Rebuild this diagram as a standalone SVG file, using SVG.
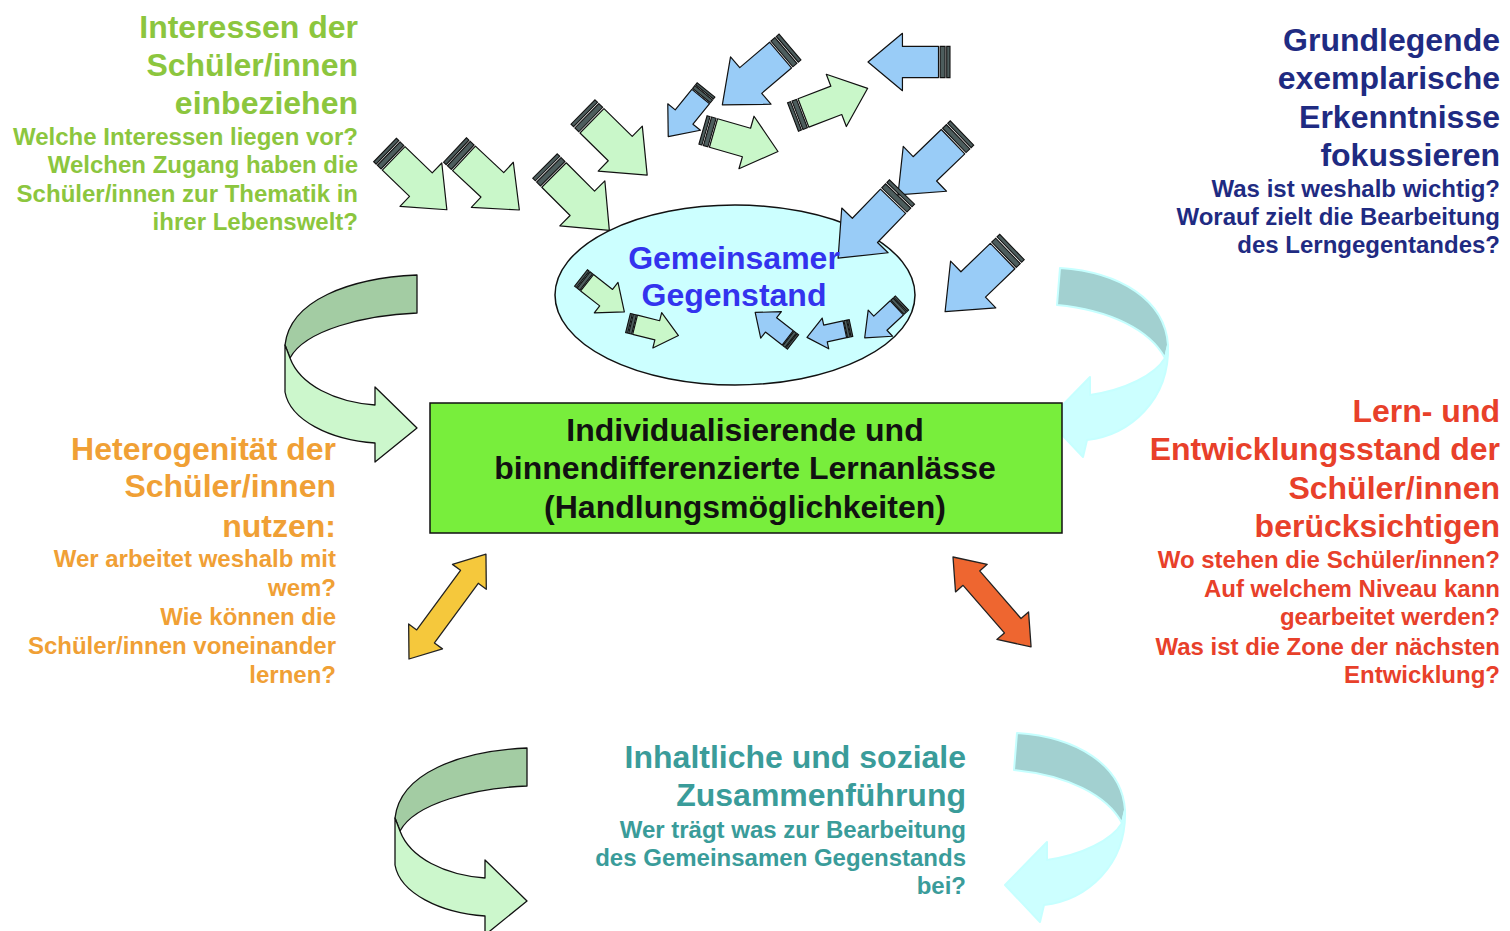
<svg xmlns="http://www.w3.org/2000/svg" xmlns:xlink="http://www.w3.org/1999/xlink" width="1510" height="931" viewBox="0 0 1510 931">
<style>
text{font-family:"Liberation Sans",Arial,sans-serif;font-weight:bold}
.h{font-size:32px}
.q{font-size:24px}
.r{text-anchor:end}
.c{text-anchor:middle}
.grn{fill:#8cc63e}
.nav{fill:#1f2b82}
.org{fill:#f0a035}
.red{fill:#e8402a}
.tea{fill:#3a9c9a}
.g{fill:#c9f7c9}
.b{fill:#99ccf7}
.dk{fill:#a3cca3;stroke:#111;stroke-width:1.3;stroke-linejoin:round}
.lt{fill:#ccf7cc;stroke:#111;stroke-width:1.3;stroke-linejoin:round}
.cdk{fill:#a2d0d0;stroke:#c6ffff;stroke-width:2;stroke-linejoin:round}
.clt{fill:#ccffff;stroke:#c6ffff;stroke-width:2;stroke-linejoin:round}
</style>
<defs>
<g id="sa">
<rect x="0" y="-19" width="4" height="38" fill="#4d5d5d" stroke="#111" stroke-width="1.1" vector-effect="non-scaling-stroke"/>
<rect x="6" y="-19" width="6" height="38" fill="#4d5d5d" stroke="#111" stroke-width="1.1" vector-effect="non-scaling-stroke"/>
<path d="M14,-19 H58 V-35 L100,0 L58,35 V19 H14 Z" stroke="#111" stroke-width="1.2" stroke-linejoin="round" vector-effect="non-scaling-stroke"/>
</g>
<g id="curveL">
<path class="dk" d="M417,275 C350,278 290,300 285,345 L290,358 C305,330 365,315 417,313 Z"/>
<path class="lt" d="M285,345 L285,392 C290,420 330,440 375,443 L375,462 L417,428 L375,387 L375,405 C335,402 300,385 290,358 Z"/>
</g>
<g id="curveR">
<path class="cdk" d="M1060,268 C1120,272 1165,300 1168,345 L1165,358 C1150,330 1110,310 1057,305 Z"/>
<path class="clt" d="M1168,345 C1170,400 1130,435 1087,440 L1083,457 L1048,420 L1090,377 L1090,395 C1125,390 1155,375 1165,358 Z"/>
</g>
</defs>

<g id="connectors">
<use xlink:href="#curveL"/>
<use xlink:href="#curveL" transform="translate(110,473)"/>
<use xlink:href="#curveR"/>
<use xlink:href="#curveR" transform="translate(-43,465)"/>
<path transform="translate(409,659) rotate(-53.7)" d="M0,0 L28,-21 L28,-11 L102,-11 L102,-21 L130,0 L102,21 L102,11 L28,11 L28,21 Z" fill="#f5c83c" stroke="#222" stroke-width="1.3" stroke-linejoin="round"/>
<path transform="translate(953,557) rotate(49)" d="M0,0 L28,-21 L28,-11 L91,-11 L91,-21 L119,0 L91,21 L91,11 L28,11 L28,21 Z" fill="#ee6630" stroke="#222" stroke-width="1.3" stroke-linejoin="round"/>
</g>

<g id="gegenstand">
<ellipse cx="735" cy="295" rx="180" ry="90" fill="#ccffff" stroke="#111" stroke-width="1.5"/>
</g>

<g id="pfeile">
<use xlink:href="#sa" class="g" transform="translate(385,150) rotate(44) scale(0.86)"/>
<use xlink:href="#sa" class="g" transform="translate(455,150) rotate(43) scale(0.88)"/>
<use xlink:href="#sa" class="g" transform="translate(545,166) rotate(45) scale(0.91)"/>
<use xlink:href="#sa" class="g" transform="translate(583,112) rotate(44.5) scale(0.9)"/>
<use xlink:href="#sa" class="b" transform="translate(790,47) rotate(139.5) scale(0.89)"/>
<use xlink:href="#sa" class="b" transform="translate(950,62) rotate(180) scale(0.82)"/>
<use xlink:href="#sa" class="b" transform="translate(706,90) rotate(129) scale(0.6)"/>
<use xlink:href="#sa" class="g" transform="translate(703,130) rotate(16) scale(0.78)"/>
<use xlink:href="#sa" class="g" transform="translate(793,117) rotate(-21) scale(0.8)"/>
<use xlink:href="#sa" class="b" transform="translate(962,133) rotate(136) scale(0.89)"/>
<use xlink:href="#sa" class="b" transform="translate(902,192) rotate(134) scale(0.92)"/>
<use xlink:href="#sa" class="b" transform="translate(1012,247) rotate(136) scale(0.93)"/>
<use xlink:href="#sa" class="g" transform="translate(581,278) rotate(38) scale(0.55)"/>
<use xlink:href="#sa" class="g" transform="translate(628,323) rotate(14) scale(0.52)"/>
<use xlink:href="#sa" class="b" transform="translate(793,342) rotate(218) scale(0.48)"/>
<use xlink:href="#sa" class="b" transform="translate(851,328) rotate(168) scale(0.45)"/>
<use xlink:href="#sa" class="b" transform="translate(902,303) rotate(137) scale(0.51)"/>
</g>

<g id="gegenstand-text">
<text class="h c" x="734" y="269" fill="#3333ee">Gemeinsamer</text>
<text class="h c" x="734" y="306" fill="#3333ee">Gegenstand</text>
</g>

<g id="lernanlaesse">
<rect x="430" y="403" width="632" height="130" fill="#78ee3c" stroke="#111" stroke-width="1.5"/>
<text class="h c" x="745" y="441" fill="#111">Individualisierende und</text>
<text class="h c" x="745" y="479" fill="#111">binnendifferenzierte Lernanlässe</text>
<text class="h c" x="745" y="518" fill="#111">(Handlungsmöglichkeiten)</text>
</g>

<g id="interessen" class="grn">
<text class="h r" x="358" y="38">Interessen der</text>
<text class="h r" x="358" y="76">Schüler/innen</text>
<text class="h r" x="358" y="114">einbeziehen</text>
<text class="q r" x="358" y="145">Welche Interessen liegen vor?</text>
<text class="q r" x="358" y="173">Welchen Zugang haben die</text>
<text class="q r" x="358" y="202">Schüler/innen zur Thematik in</text>
<text class="q r" x="358" y="230">ihrer Lebenswelt?</text>
</g>

<g id="erkenntnisse" class="nav">
<text class="h r" x="1500" y="51">Grundlegende</text>
<text class="h r" x="1500" y="89">exemplarische</text>
<text class="h r" x="1500" y="128">Erkenntnisse</text>
<text class="h r" x="1500" y="166">fokussieren</text>
<text class="q r" x="1500" y="197">Was ist weshalb wichtig?</text>
<text class="q r" x="1500" y="225">Worauf zielt die Bearbeitung</text>
<text class="q r" x="1500" y="253">des Lerngegentandes?</text>
</g>

<g id="heterogenitaet" class="org">
<text class="h r" x="336" y="460">Heterogenität der</text>
<text class="h r" x="336" y="497">Schüler/innen</text>
<text class="h r" x="336" y="537">nutzen:</text>
<text class="q r" x="336" y="567">Wer arbeitet weshalb mit</text>
<text class="q r" x="336" y="596">wem?</text>
<text class="q r" x="336" y="625">Wie können die</text>
<text class="q r" x="336" y="654">Schüler/innen voneinander</text>
<text class="q r" x="336" y="683">lernen?</text>
</g>

<g id="entwicklungsstand" class="red">
<text class="h r" x="1500" y="422">Lern- und</text>
<text class="h r" x="1500" y="460">Entwicklungsstand der</text>
<text class="h r" x="1500" y="499">Schüler/innen</text>
<text class="h r" x="1500" y="537">berücksichtigen</text>
<text class="q r" x="1500" y="568">Wo stehen die Schüler/innen?</text>
<text class="q r" x="1500" y="597">Auf welchem Niveau kann</text>
<text class="q r" x="1500" y="625">gearbeitet werden?</text>
<text class="q r" x="1500" y="655">Was ist die Zone der nächsten</text>
<text class="q r" x="1500" y="683">Entwicklung?</text>
</g>

<g id="zusammenfuehrung" class="tea">
<text class="h r" x="966" y="768">Inhaltliche und soziale</text>
<text class="h r" x="966" y="806">Zusammenführung</text>
<text class="q r" x="966" y="838">Wer trägt was zur Bearbeitung</text>
<text class="q r" x="966" y="866">des Gemeinsamen Gegenstands</text>
<text class="q r" x="966" y="894">bei?</text>
</g>
</svg>
